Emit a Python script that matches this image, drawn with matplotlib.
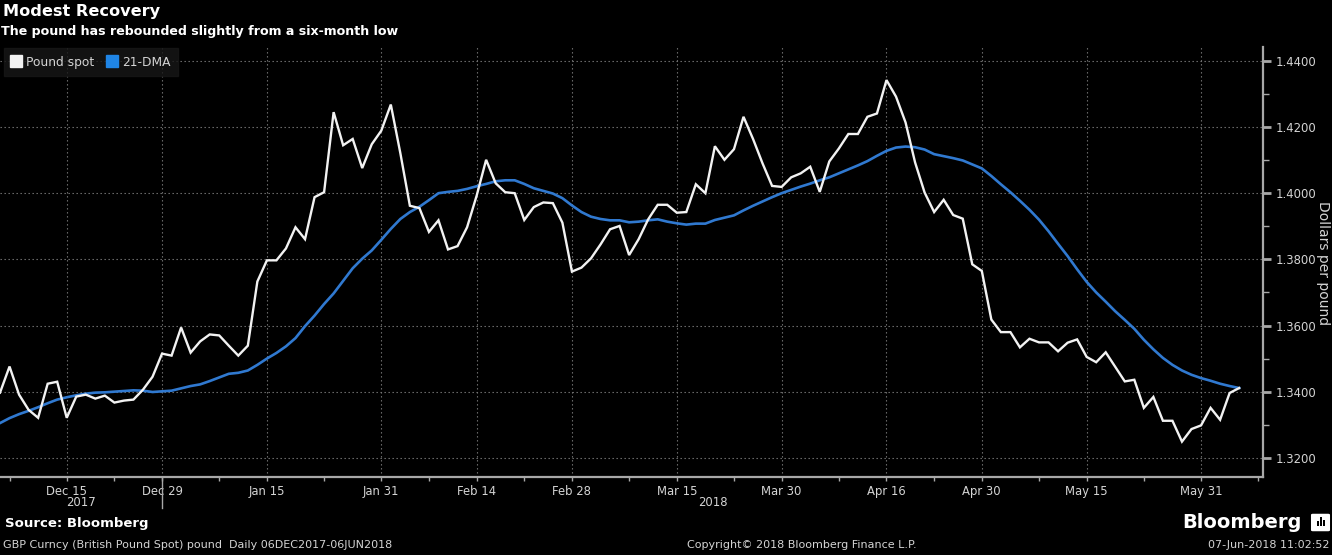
''' GBP spot vs 21-day moving average, Bloomberg style '''

import numpy as np
import matplotlib
matplotlib.use('Agg')
import matplotlib.pyplot as plt
from matplotlib.lines import Line2D
from matplotlib.patches import FancyBboxPatch, Rectangle

start_date = '2017-12-06'

# daily (business day) closes, 06DEC2017-06JUN2018
pound_spot = [
    1.3397, 1.3476, 1.3391, 1.3345, 1.3321, 1.3424, 1.3430, 1.3321, 1.3385, 1.3391,
    1.3379, 1.3388, 1.3367, 1.3373, 1.3376, 1.3406, 1.3445, 1.3515, 1.3509, 1.3594,
    1.3518, 1.3552, 1.3573, 1.3570, 1.3539, 1.3509, 1.3539, 1.3733, 1.3797, 1.3797,
    1.3833, 1.3897, 1.3861, 1.3988, 1.4003, 1.4245, 1.4145, 1.4164, 1.4076, 1.4148,
    1.4189, 1.4268, 1.4121, 1.3962, 1.3955, 1.3883, 1.3918, 1.3830, 1.3840, 1.3897,
    1.3992, 1.4101, 1.4030, 1.4003, 1.4000, 1.3919, 1.3958, 1.3972, 1.3970, 1.3911,
    1.3763, 1.3775, 1.3803, 1.3845, 1.3891, 1.3901, 1.3813, 1.3861, 1.3921, 1.3965,
    1.3965, 1.3941, 1.3943, 1.4027, 1.4000, 1.4142, 1.4101, 1.4133, 1.4231, 1.4164,
    1.4090, 1.4022, 1.4019, 1.4048, 1.4060, 1.4080, 1.4004, 1.4096, 1.4135, 1.4179,
    1.4179, 1.4231, 1.4241, 1.4342, 1.4292, 1.4214, 1.4093, 1.4002, 1.3943, 1.3980,
    1.3934, 1.3923, 1.3785, 1.3765, 1.3618, 1.3580, 1.3580, 1.3534, 1.3560, 1.3549,
    1.3549, 1.3522, 1.3548, 1.3558, 1.3505, 1.3489, 1.3519, 1.3475, 1.3431, 1.3436,
    1.3351, 1.3384, 1.3312, 1.3312, 1.3249, 1.3287, 1.3298, 1.3351, 1.3315, 1.3396,
    1.3411]

dma_21 = [
    1.3305, 1.3320, 1.3332, 1.3342, 1.3353, 1.3365, 1.3376, 1.3383, 1.3389, 1.3394,
    1.3397, 1.3398, 1.3400, 1.3402, 1.3404, 1.3403, 1.3399, 1.3401, 1.3403, 1.3410,
    1.3417, 1.3422, 1.3432, 1.3443, 1.3454, 1.3457, 1.3464, 1.3481, 1.3500, 1.3517,
    1.3537, 1.3562, 1.3598, 1.3630, 1.3665, 1.3697, 1.3735, 1.3773, 1.3802, 1.3827,
    1.3859, 1.3892, 1.3922, 1.3943, 1.3959, 1.3979, 1.4000, 1.4004, 1.4007, 1.4013,
    1.4021, 1.4028, 1.4036, 1.4039, 1.4039, 1.4028, 1.4015, 1.4007, 1.3999, 1.3985,
    1.3963, 1.3943, 1.3929, 1.3922, 1.3918, 1.3918, 1.3912, 1.3914, 1.3918, 1.3921,
    1.3914, 1.3909, 1.3905, 1.3908, 1.3908, 1.3919, 1.3926, 1.3933, 1.3948, 1.3962,
    1.3975, 1.3988, 1.4000, 1.4010, 1.4020, 1.4029, 1.4039, 1.4048, 1.4060, 1.4072,
    1.4084, 1.4097, 1.4113, 1.4128, 1.4138, 1.4141, 1.4139, 1.4132, 1.4118, 1.4112,
    1.4106, 1.4099, 1.4087, 1.4075, 1.4052, 1.4027, 1.4003, 1.3977, 1.3950, 1.3920,
    1.3885, 1.3847, 1.3810, 1.3770, 1.3732, 1.3700, 1.3672, 1.3643, 1.3617, 1.3590,
    1.3557, 1.3528, 1.3502, 1.3481, 1.3464, 1.3451, 1.3441, 1.3433, 1.3424, 1.3417,
    1.3411]

tick_dates = ['2017-12-15', '2017-12-29', '2018-01-15', '2018-01-31', '2018-02-14',
              '2018-02-28', '2018-03-15', '2018-03-30', '2018-04-16', '2018-04-30',
              '2018-05-15', '2018-05-31']
tick_labels = ['Dec 15', 'Dec 29', 'Jan 15', 'Jan 31', 'Feb 14', 'Feb 28',
               'Mar 15', 'Mar 30', 'Apr 16', 'Apr 30', 'May 15', 'May 31']
minor_dates = ['2017-12-07', '2017-12-22', '2018-01-08', '2018-01-23', '2018-02-07',
               '2018-02-21', '2018-03-08', '2018-03-23', '2018-04-09', '2018-04-23',
               '2018-05-08', '2018-05-23', '2018-06-08']
y_ticks = [1.32, 1.34, 1.36, 1.38, 1.40, 1.42, 1.44]

BG = '#000000'
WHITE = '#f2f2f2'
BLUE = '#3079d0'
TXT = '#d4d4d4'
AXC = '#a8a8a8'
GRID = '#7a7a7a'


def bpos(d):
    '''business-day position from the first observation'''
    return np.busday_count(start_date, d)


def main():
    plt.rcParams['font.family'] = ['DejaVu Sans']
    fw, fh = 1332.0, 555.0
    fig = plt.figure(figsize=(13.32, 5.55), dpi=100, facecolor=BG)
    ax = fig.add_axes([0.0, 78 / fh, 1263 / fw, 430 / fh], facecolor=BG)

    x = np.arange(len(pound_spot))
    ax.plot(x, dma_21, color=BLUE, lw=1.9, solid_joinstyle='round', zorder=3)
    ax.plot(x, pound_spot, color=WHITE, lw=1.7, solid_joinstyle='miter', zorder=4)

    ax.set_xlim(0, 132.5)
    ax.set_ylim(1.3142, 1.4442)

    # axes / spines
    for side in ('top', 'left'):
        ax.spines[side].set_visible(False)
    for side in ('bottom', 'right'):
        ax.spines[side].set_color(AXC)
        ax.spines[side].set_linewidth(1.6)

    ax.yaxis.tick_right()
    ax.set_yticks(y_ticks)
    ax.set_yticklabels(['{:.4f}'.format(v) for v in y_ticks])
    ax.set_yticks([v + 0.01 for v in y_ticks[:-1]], minor=True)
    ax.tick_params(axis='y', which='major', direction='out', length=6, width=2,
                   color=AXC, labelcolor=TXT, labelsize=8.4, pad=3)
    ax.tick_params(axis='y', which='minor', direction='out', length=4, width=1,
                   color=AXC)
    fig.text(1323 / fw, 1 - 263 / fh, 'Dollars per pound', color=TXT, fontsize=10,
             rotation=270, ha='center', va='center')

    ax.set_xticks([bpos(d) for d in tick_dates])
    ax.set_xticklabels(tick_labels)
    ax.set_xticks([bpos(d) for d in minor_dates], minor=True)
    ax.tick_params(axis='x', which='major', direction='out', length=3, width=1,
                   color=AXC, labelcolor=TXT, labelsize=8.4, pad=3)
    ax.tick_params(axis='x', which='minor', direction='out', length=3, width=1,
                   color=AXC)

    ax.grid(True, which='major', color=GRID, lw=0.8, ls=(0, (1.2, 2.4)))
    ax.set_axisbelow(True)

    # year labels and year divider
    div = bpos('2017-12-29')
    ax.plot([div, div], [0, -0.072], transform=ax.get_xaxis_transform(),
            color=AXC, lw=1, clip_on=False)
    ax.text(bpos('2017-12-15') + 1.5, -0.045, '2017', transform=ax.get_xaxis_transform(),
            ha='center', va='top', color=TXT, fontsize=8.4)
    ax.text(bpos('2018-03-15') + 3.8, -0.045, '2018', transform=ax.get_xaxis_transform(),
            ha='center', va='top', color=TXT, fontsize=8.4)

    # legend
    handles = [Line2D([], [], ls='', marker='s', markersize=8, color=WHITE),
               Line2D([], [], ls='', marker='s', markersize=8, color='#1f85e6')]
    leg = ax.legend(handles, ['Pound spot', '21-DMA'], loc='upper left',
                    bbox_to_anchor=(0.002, 1.0), borderaxespad=0.1, ncol=2,
                    fontsize=8.8, handlelength=0.8, handletextpad=0.4,
                    columnspacing=1.1, borderpad=0.6, frameon=True, fancybox=False)
    leg.get_frame().set_facecolor('#171717')
    leg.get_frame().set_edgecolor('#171717')
    for t in leg.get_texts():
        t.set_color(TXT)

    # titles
    fig.text(3 / fw, 1 - 4 / fh, 'Modest Recovery', color='white',
             fontsize=11.6, fontweight='bold', ha='left', va='top')
    fig.text(1 / fw, 1 - 25 / fh, 'The pound has rebounded slightly from a six-month low',
             color='white', fontsize=9.1, fontweight='bold', ha='left', va='top')

    # footer
    fig.text(5 / fw, 1 - 517 / fh, 'Source: Bloomberg', color='white',
             fontsize=9.5, fontweight='bold', ha='left', va='top')
    fig.text(3 / fw, 1 - 540 / fh,
             'GBP Curncy (British Pound Spot) pound  Daily 06DEC2017-06JUN2018',
             color=TXT, fontsize=8, ha='left', va='top')
    fig.text(687 / fw, 1 - 540 / fh, 'Copyright\u00a9 2018 Bloomberg Finance L.P.',
             color=TXT, fontsize=8, ha='left', va='top')
    fig.text(1330 / fw, 1 - 540 / fh, '07-Jun-2018 11:02:52',
             color=TXT, fontsize=8, ha='right', va='top')
    fig.text(1302 / fw, 1 - 522 / fh, 'Bloomberg', color='white',
             fontsize=14, fontweight='bold', ha='right', va='center')

    # little logo mark
    fig.patches.append(FancyBboxPatch((1313 / fw, 1 - 530 / fh), 15 / fw, 15 / fh,
                                      boxstyle='round,pad=0.001', transform=fig.transFigure,
                                      facecolor='white', edgecolor='white'))
    for bx, bh in ((1317, 5), (1320, 9), (1323, 6)):
        fig.patches.append(Rectangle((bx / fw, 1 - 526 / fh), 1.8 / fw, bh / fh,
                                     transform=fig.transFigure, facecolor='black',
                                     edgecolor='none'))

    fig.savefig('out.png', dpi=100, facecolor=BG)


if __name__ == '__main__':
    main()
